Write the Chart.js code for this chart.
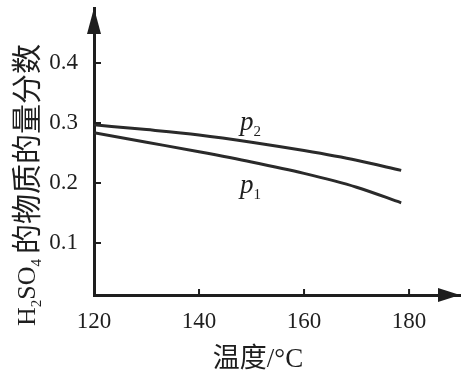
<!DOCTYPE html>
<html lang="zh">
<head>
    <meta charset="UTF-8">
    <title>H2SO4 物质的量分数</title>
    <script src="https://cdn.jsdelivr.net/npm/chart.js"></script>
    <style>
        html, body { margin: 0; padding: 0; background: #fff; }
        .chart-container { width: 466px; height: 374px; position: relative; }
    </style>
</head>
<body>
    <div class="chart-container">
        <canvas id="acidChart"></canvas>
    </div>

    <script>
        const temps = [120, 130, 140, 150, 160, 170, 178.5];
        // Mole fraction of H2SO4 for each pressure
        const p2Values = [0.297, 0.289, 0.280, 0.268, 0.254, 0.238, 0.221];
        const p1Values = [0.284, 0.268, 0.252, 0.235, 0.216, 0.193, 0.167];
        // Tick labels
        const xTicks = [120, 140, 160, 180];
        const yTicks = [0.1, 0.2, 0.3, 0.4];

        const serif = '"Liberation Serif", "Noto Sans CJK SC", serif';
        const ink = '#1e1e1e';

        function toPoints(values) {
            return temps.map((t, i) => ({ x: t, y: values[i] }));
        }

        // Curve labels (p with subscript), anchored in data coordinates
        const curveLabels = [
            { base: 'p', sub: '2', x: 147.8, y: 0.288 },
            { base: 'p', sub: '1', x: 147.8, y: 0.183 }
        ];

        // Draws arrows, inward tick marks, axis titles and curve labels
        const decorations = {
            id: 'decorations',
            afterDraw(chart) {
                const ctx = chart.ctx;
                const area = chart.chartArea;
                const xs = chart.scales.x;
                const ys = chart.scales.y;
                ctx.save();
                ctx.fillStyle = ink;
                ctx.strokeStyle = ink;

                // arrowheads
                ctx.beginPath();
                ctx.moveTo(area.left, area.top);
                ctx.lineTo(area.left - 7, area.top + 26);
                ctx.lineTo(area.left + 7, area.top + 26);
                ctx.closePath();
                ctx.fill();
                ctx.beginPath();
                ctx.moveTo(area.right, area.bottom);
                ctx.lineTo(area.right - 22, area.bottom - 7);
                ctx.lineTo(area.right - 22, area.bottom + 7);
                ctx.closePath();
                ctx.fill();

                // tick marks pointing into the plot
                ctx.lineWidth = 2;
                ctx.beginPath();
                yTicks.forEach(v => {
                    const py = ys.getPixelForValue(v);
                    ctx.moveTo(area.left, py);
                    ctx.lineTo(area.left + 7, py);
                });
                xTicks.slice(1).forEach(v => {
                    const px = xs.getPixelForValue(v);
                    ctx.moveTo(px, area.bottom);
                    ctx.lineTo(px, area.bottom - 6);
                });
                ctx.stroke();

                // x axis title
                ctx.font = '27px ' + serif;
                ctx.textAlign = 'center';
                ctx.textBaseline = 'middle';
                ctx.fillText('温度/°C', 258, 360);

                // y axis title, rotated, with real subscripts
                ctx.save();
                ctx.translate(26, 326);
                ctx.rotate(-Math.PI / 2);
                ctx.textAlign = 'left';
                ctx.textBaseline = 'alphabetic';
                let cx = 0;
                const parts = [
                    { t: 'H', size: 26, dy: 0 },
                    { t: '2', size: 15, dy: 6 },
                    { t: 'SO', size: 26, dy: 0 },
                    { t: '4', size: 15, dy: 6 },
                    { t: ' ', size: 20, dy: 0 },
                    { t: '的物质的量分数', size: 30, dy: 2 }
                ];
                parts.forEach(p => {
                    ctx.font = p.size + 'px ' + serif;
                    ctx.fillText(p.t, cx, 9 + p.dy);
                    cx += ctx.measureText(p.t).width;
                });
                ctx.restore();

                // curve labels
                curveLabels.forEach(l => {
                    const px = xs.getPixelForValue(l.x);
                    const py = ys.getPixelForValue(l.y);
                    ctx.textAlign = 'left';
                    ctx.textBaseline = 'alphabetic';
                    ctx.font = 'italic 27px ' + serif;
                    ctx.fillText(l.base, px, py);
                    const w = ctx.measureText(l.base).width;
                    ctx.font = '15px ' + serif;
                    ctx.fillText(l.sub, px + w, py + 6);
                });

                ctx.restore();
            }
        };

        const lineStyle = {
            borderColor: '#2a2a2a',
            borderWidth: 3,
            pointRadius: 0,
            showLine: true,
            fill: false,
            cubicInterpolationMode: 'monotone'
        };

        new Chart(document.getElementById('acidChart'), {
            type: 'scatter',
            data: {
                datasets: [
                    Object.assign({ label: 'p2', data: toPoints(p2Values) }, lineStyle),
                    Object.assign({ label: 'p1', data: toPoints(p1Values) }, lineStyle)
                ]
            },
            options: {
                responsive: true,
                maintainAspectRatio: false,
                animation: false,
                layout: { padding: { left: 0, top: 8, right: 6, bottom: 0 } },
                plugins: {
                    legend: { display: false },
                    tooltip: { enabled: false }
                },
                scales: {
                    x: {
                        type: 'linear',
                        min: 120,
                        max: 189.7,
                        afterFit: s => {
                            s.height = 79;
                            s.paddingLeft = 0;
                            s.paddingRight = 0;
                        },
                        afterBuildTicks: s => { s.ticks = xTicks.map(v => ({ value: v })); },
                        grid: { display: false },
                        border: { display: true, color: ink, width: 3 },
                        ticks: {
                            color: ink,
                            padding: 5,
                            maxRotation: 0,
                            font: { family: serif, size: 23 }
                        }
                    },
                    y: {
                        type: 'linear',
                        min: 0.0133,
                        max: 0.4917,
                        afterFit: s => {
                            s.width = 94;
                            s.paddingTop = 0;
                            s.paddingBottom = 0;
                        },
                        afterBuildTicks: s => { s.ticks = yTicks.map(v => ({ value: v })); },
                        grid: { display: false },
                        border: { display: true, color: ink, width: 3 },
                        ticks: {
                            color: ink,
                            padding: 8,
                            font: { family: serif, size: 23 },
                            callback: v => v.toFixed(1)
                        }
                    }
                }
            },
            plugins: [decorations]
        });
    </script>
</body>
</html>
